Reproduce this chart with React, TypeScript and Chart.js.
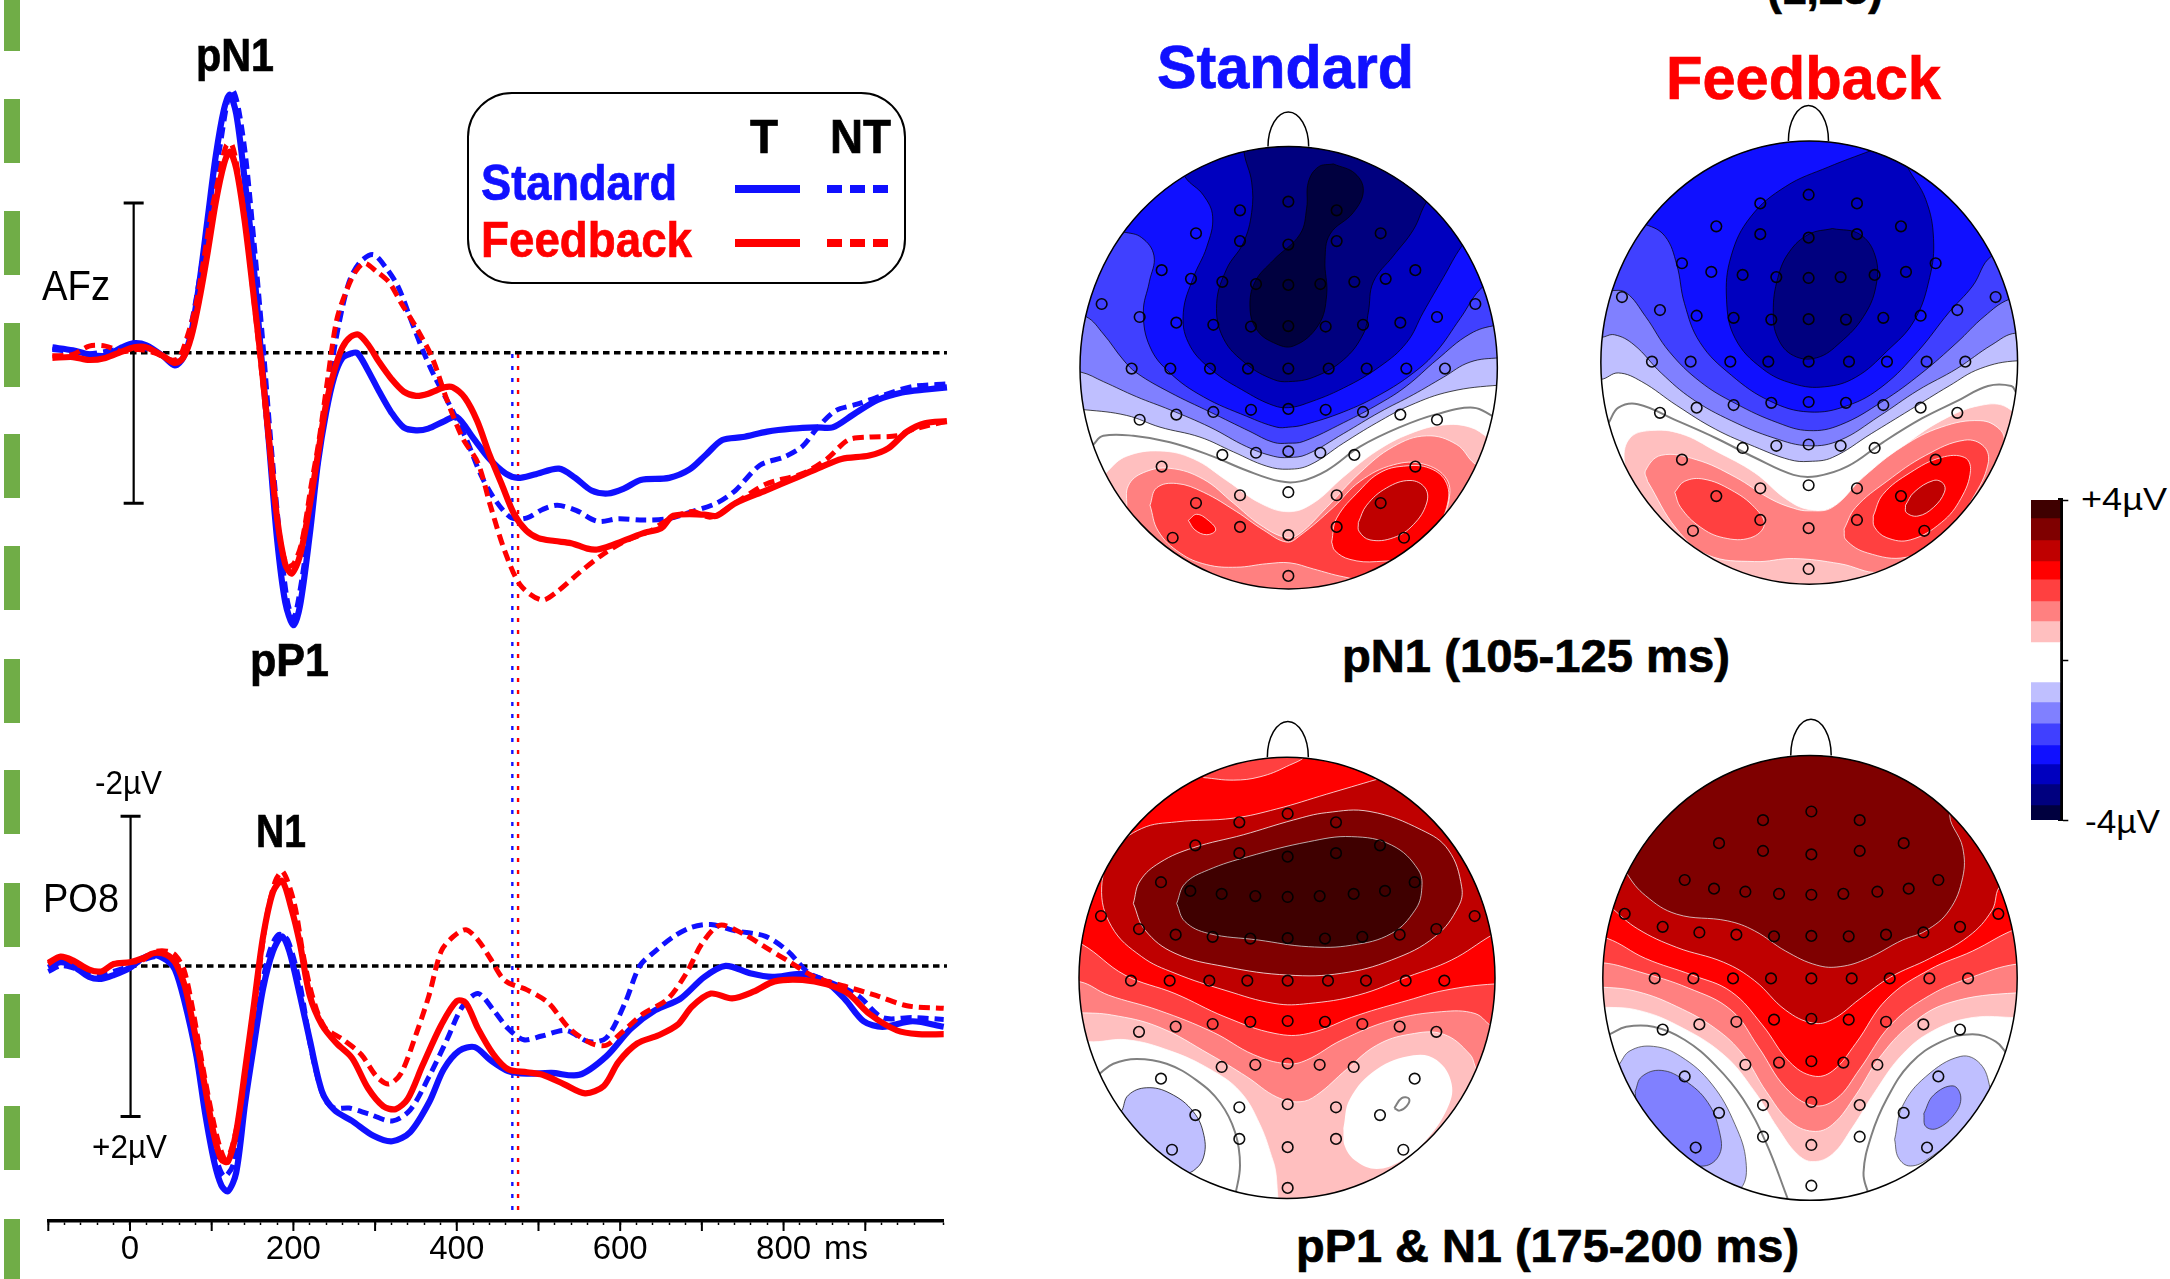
import React, { useEffect, useRef } from "react";
import { Chart, registerables } from "chart.js";
Chart.register(...registerables);

type P = [number, number];

// ---------- ERP traces: [ms, trace reading] (reading: 0-uV line = baseline, 178 or 203 units per uV, negative up)
const afzStdT: P[] = [[-95,825],[-70,832],[-50,842],[-30,845],[-10,825],[5,815],[20,820],[40,845],[55,868],[65,850],[75,790],[85,670],[95,520],[105,370],[115,260],[122,225],[130,270],[140,420],[150,600],[160,830],[170,1050],[180,1280],[190,1430],[200,1485],[208,1440],[220,1270],[230,1100],[240,980],[250,895],[260,850],[270,840],[278,838],[290,875],[305,930],[320,980],[335,1015],[350,1022],[365,1018],[385,1000],[400,990],[420,1040],[440,1090],[460,1125],[475,1135],[495,1127],[525,1113],[545,1135],[565,1165],[585,1172],[605,1160],[625,1140],[660,1135],[685,1115],[705,1080],[725,1045],[750,1038],[780,1025],[810,1018],[840,1015],[860,1015],[885,985],[915,950],[945,932],[975,925],[1000,920]];
const afzStdNT: P[] = [[-95,830],[-70,835],[-50,840],[-30,835],[-10,828],[10,825],[30,835],[50,855],[60,855],[70,810],[80,720],[90,600],[100,470],[110,350],[120,235],[126,215],[133,260],[142,380],[152,580],[162,800],[172,1040],[182,1250],[192,1420],[200,1470],[210,1380],[225,1170],[238,990],[250,830],[260,730],[270,660],[283,620],[298,605],[313,635],[328,680],[343,755],[358,830],[373,895],[392,965],[411,1040],[430,1130],[448,1190],[467,1230],[486,1230],[505,1210],[523,1200],[546,1212],[572,1238],[598,1232],[628,1235],[658,1232],[688,1215],[718,1195],[741,1165],[771,1105],[801,1085],[823,1060],[842,1015],[864,975],[890,960],[920,940],[958,918],[1000,912]];
const afzFbT: P[] = [[-95,850],[-70,848],[-50,855],[-30,850],[-10,835],[5,825],[20,825],[40,845],[55,862],[65,850],[75,800],[85,710],[95,600],[105,480],[115,390],[122,360],[130,400],[140,520],[150,680],[160,850],[170,1040],[180,1230],[190,1340],[198,1362],[208,1320],[220,1200],[230,1080],[240,960],[250,880],[260,825],[270,800],[280,795],[292,820],[305,860],[320,900],[335,930],[350,940],[365,935],[385,920],[395,920],[410,945],[425,1000],[440,1080],[455,1150],[470,1220],[485,1260],[500,1278],[520,1285],[540,1290],[560,1303],[572,1305],[590,1295],[610,1280],[630,1265],[650,1255],[665,1225],[703,1222],[718,1225],[741,1195],[778,1165],[815,1135],[845,1110],[871,1090],[905,1082],[928,1065],[951,1025],[973,1005],[1000,1000]];
const afzFbNT: P[] = [[-95,845],[-70,842],[-50,822],[-30,822],[-10,835],[10,830],[30,838],[50,855],[60,850],[70,800],[80,730],[90,620],[100,500],[110,410],[118,345],[125,345],[133,420],[142,540],[152,720],[162,900],[172,1090],[182,1260],[192,1345],[200,1340],[210,1290],[222,1150],[231,1050],[242,900],[253,760],[265,690],[276,645],[287,625],[302,645],[317,670],[332,720],[351,780],[370,850],[388,950],[407,1040],[426,1100],[441,1200],[459,1310],[478,1390],[504,1425],[523,1405],[550,1360],[580,1315],[606,1285],[636,1262],[658,1235],[688,1215],[711,1228],[741,1195],[778,1150],[823,1125],[853,1090],[879,1045],[905,1038],[939,1035],[958,1020],[1000,1000]];

const po8StdT: P[] = [[-100,725],[-85,710],[-70,720],[-50,750],[-35,755],[-20,745],[0,725],[15,700],[30,690],[45,705],[55,730],[66,810],[81,960],[92,1120],[103,1250],[112,1315],[120,1330],[130,1280],[141,1090],[152,930],[163,780],[175,680],[186,640],[195,680],[208,800],[220,920],[235,1060],[250,1110],[272,1140],[298,1180],[321,1195],[343,1170],[366,1090],[384,1000],[403,950],[422,940],[441,975],[463,1005],[486,1012],[516,1010],[550,1015],[583,965],[613,890],[643,840],[673,810],[703,750],[729,720],[759,740],[786,750],[823,742],[853,765],[875,810],[898,870],[921,885],[958,870],[996,885]];
const po8StdNT: P[] = [[-100,735],[-85,720],[-70,725],[-50,740],[-35,745],[-20,735],[0,720],[15,705],[30,695],[45,700],[55,720],[65,785],[73,860],[88,1050],[103,1220],[115,1290],[126,1260],[137,1120],[148,950],[160,790],[171,680],[182,635],[193,650],[208,770],[223,960],[238,1080],[250,1105],[268,1105],[291,1120],[321,1140],[343,1110],[366,1020],[388,920],[407,830],[426,795],[445,840],[463,890],[482,920],[504,910],[534,895],[561,925],[583,915],[606,820],[624,720],[643,680],[666,640],[688,615],[711,608],[741,625],[778,640],[805,680],[831,740],[853,760],[891,800],[921,860],[958,860],[996,865]];
const po8FbT: P[] = [[-100,712],[-85,695],[-70,705],[-50,730],[-35,735],[-20,715],[0,710],[15,700],[30,685],[45,690],[55,710],[65,760],[70,800],[81,920],[92,1050],[103,1180],[112,1245],[120,1250],[130,1170],[141,1000],[152,820],[163,640],[175,520],[186,490],[197,560],[208,660],[220,800],[235,880],[253,930],[272,970],[291,1050],[310,1100],[325,1108],[340,1080],[358,990],[381,880],[400,815],[411,820],[426,890],[445,960],[463,1000],[486,1008],[505,1015],[531,1040],[557,1065],[580,1045],[598,980],[621,930],[647,908],[670,880],[688,830],[711,795],[737,808],[763,790],[789,762],[823,758],[853,770],[879,795],[905,850],[939,895],[965,905],[996,905]];
const po8FbNT: P[] = [[-100,715],[-85,695],[-70,710],[-50,730],[-35,735],[-20,715],[0,710],[15,705],[30,682],[45,680],[55,690],[66,730],[77,840],[88,980],[103,1150],[115,1240],[122,1230],[133,1130],[145,950],[156,770],[167,590],[178,490],[187,465],[201,550],[212,690],[223,800],[238,885],[261,920],[283,960],[302,1020],[317,1040],[332,1010],[351,900],[366,800],[381,680],[396,640],[411,622],[426,650],[441,700],[459,760],[486,785],[512,820],[538,890],[565,930],[583,935],[602,900],[628,850],[658,810],[681,740],[700,660],[722,610],[752,635],[778,670],[808,710],[838,750],[875,775],[913,800],[951,828],[996,835]];

const tickLabels = [0, 200, 400, 600, 800];

// ---------- colour levels
const cBar = ["#3F0000","#7F0000","#BF0000","#FF0000","#FF4040","#FF8080","#FFBFBF","#FFFFFF","#BFBFFF","#8080FF","#4040FF","#1010FF","#0000BF","#00007F","#00003F"];
const barEdges = [4,3.55,3,2.48,2.02,1.48,0.98,0.45,-0.55,-1.05,-1.58,-2.12,-2.6,-3.1,-3.62,-4];

// ---------- electrodes (as read on map A)
const electrodes: P[] = [[685,465],[540,485],[830,485],[408,538],[962,538],[540,556],[685,564],[830,556],[305,623],[393,643],[487,650],[588,655],[685,657],[781,655],[883,650],[977,643],[1066,623],[125,701],[239,731],[349,744],[460,749],[573,753],[685,752],[797,753],[909,749],[1021,744],[1131,731],[1246,701],[215,850],[331,850],[450,850],[564,850],[685,850],[806,850],[920,850],[1039,850],[1155,850],[239,968],[349,956],[460,950],[573,945],[685,943],[797,945],[909,950],[1021,956],[1131,968],[487,1049],[588,1044],[685,1041],[781,1044],[883,1049],[305,1076],[1066,1076],[540,1142],[685,1135],[830,1142],[408,1160],[962,1160],[540,1215],[685,1234],[830,1215],[338,1240],[1032,1240],[685,1328]];

// ---------- iso-potential contours, one small list per band
const Bk = "rgba(0,0,0,0.8)", Wh = "rgba(255,255,255,0.85)", Gr = "#808080";
type Band = { c: string; s: string; p: P[] };

const mapABands: Band[] = [
 {c:cBar[8],s:Bk,p:[[-40,940],[75,945],[200,958],[300,985],[420,1008],[520,1042],[620,1075],[686,1082],[750,1072],[850,1022],[950,975],[1050,935],[1170,903],[1320,888],[1450,885],[1450,200],[-40,200]]},
 {c:cBar[9],s:Bk,p:[[-40,850],[62,858],[130,880],[230,915],[330,945],[450,985],[560,1030],[640,1052],[686,1055],[740,1048],[850,1000],[960,950],[1060,910],[1150,870],[1230,835],[1320,825],[1450,820],[1450,200],[-40,200]]},
 {c:cBar[10],s:Bk,p:[[-40,700],[78,730],[130,770],[190,830],[230,860],[330,905],[450,950],[570,995],[640,1020],[686,1022],[730,1018],[850,975],[960,930],[1040,890],[1130,830],[1230,770],[1310,750],[1450,740],[1450,200],[-40,200]]},
 {c:cBar[11],s:Bk,p:[[-40,500],[190,535],[245,548],[282,590],[268,650],[250,720],[270,800],[330,860],[430,915],[560,960],[650,985],[686,985],[730,980],[850,950],[960,910],[1060,860],[1130,810],[1200,735],[1270,660],[1450,560],[1450,200],[-40,200]]},
 {c:cBar[12],s:Bk,p:[[300,300],[375,408],[430,450],[458,500],[440,570],[400,640],[370,720],[385,790],[450,850],[560,905],[640,935],[686,940],[740,930],[850,895],[960,845],[1040,790],[1090,720],[1150,640],[1205,568],[1350,420],[1350,200],[300,200]]},
 {c:cBar[13],s:Bk,p:[[555,300],[552,350],[575,420],[575,490],[550,560],[500,620],[470,700],[490,780],[560,840],[640,875],[686,880],[760,870],[850,830],[910,770],[925,720],[940,650],[1000,590],[1060,530],[1100,465],[1250,300]]},
 {c:cBar[14],s:Bk,p:[[820,378],[885,400],[910,440],[880,490],[810,540],[795,600],[800,680],[775,750],[700,798],[640,790],[590,760],[570,710],[585,650],[640,600],[720,540],[740,480],[745,420],[775,385],[820,378]]},
 {c:cBar[6],s:Wh,p:[[100,1130],[145,1085],[200,1052],[300,1040],[400,1058],[500,1108],[600,1160],[686,1180],[760,1160],[850,1100],[950,1040],[1050,1000],[1150,980],[1230,985],[1285,1010],[1450,1100],[1450,1500],[-50,1500],[-50,1200]]},
 {c:cBar[5],s:Wh,p:[[200,1170],[205,1120],[250,1090],[330,1080],[430,1105],[520,1160],[600,1210],[680,1240],[720,1230],[800,1170],[900,1090],[1000,1030],[1100,1005],[1190,1025],[1245,1070],[1320,1100],[1400,1150],[1400,1500],[100,1500],[100,1250]]},
 {c:cBar[4],s:Wh,p:[[270,1165],[290,1125],[350,1115],[430,1135],[530,1180],[610,1222],[680,1250],[720,1235],[820,1170],[900,1110],[1000,1072],[1090,1070],[1160,1105],[1165,1160],[1130,1220],[1080,1290],[950,1340],[850,1330],[760,1312],[690,1298],[620,1300],[530,1308],[440,1302],[360,1275],[295,1225],[270,1165]]},
 {c:cBar[3],s:Wh,p:[[815,1250],[830,1195],[900,1130],[960,1090],[1030,1075],[1110,1080],[1160,1115],[1160,1170],[1120,1230],[1060,1280],[950,1295],[870,1290],[825,1270],[815,1250]]},
 {c:cBar[3],s:Wh,p:[[385,1200],[410,1186],[445,1200],[467,1222],[440,1233],[405,1222],[385,1200]]},
 {c:cBar[2],s:Wh,p:[[895,1205],[920,1165],[980,1125],[1050,1108],[1095,1125],[1100,1160],[1060,1210],[1000,1240],[930,1245],[897,1225],[895,1205]]},
];
const mapAZero: P[][] = [[[60,1060],[100,1025],[130,1005],[220,1005],[330,1020],[450,1050],[560,1085],[660,1110],[720,1110],[800,1085],[900,1030],[1020,985],[1130,955],[1240,940],[1300,960]]];

const mapBBands: Band[] = [
 {c:cBar[8],s:Bk,p:[[-40,880],[105,875],[150,860],[210,880],[300,935],[400,990],[500,1030],[590,1060],[640,1064],[700,1055],[800,1000],[900,945],[1000,890],[1080,850],[1176,832],[1450,830],[1450,100],[-40,100]]},
 {c:cBar[9],s:Bk,p:[[-40,780],[105,778],[140,772],[190,795],[260,860],[340,920],[440,970],[550,1010],[640,1028],[720,1015],[820,960],[920,900],[1020,850],[1110,795],[1172,768],[1450,760],[1450,100],[-40,100]]},
 {c:cBar[10],s:Bk,p:[[-40,670],[130,670],[170,675],[220,730],[280,810],[360,880],[450,930],[560,975],[640,993],[720,980],[830,925],[930,860],[1020,790],[1090,730],[1155,690],[1450,600],[1450,100],[-40,100]]},
 {c:cBar[11],s:Bk,p:[[-40,450],[220,518],[270,545],[300,610],[320,700],[360,790],[440,865],[540,925],[640,950],[740,935],[830,890],[920,810],[1000,720],[1060,660],[1110,590],[1450,400],[1450,100],[-40,100]]},
 {c:cBar[12],s:Bk,p:[[800,347],[690,385],[580,430],[490,500],[440,590],[428,690],[450,780],[520,850],[600,885],[680,892],[760,870],[840,810],[910,740],[950,640],[960,550],[940,460],[893,385],[850,300],[800,347]]},
 {c:cBar[13],s:Bk,p:[[700,527],[770,540],[810,590],[812,660],[780,730],[720,790],[660,825],[600,820],[560,780],[548,720],[560,640],[590,580],[640,540],[700,527]]},
 {c:cBar[6],s:Wh,p:[[190,1130],[165,1060],[180,1010],[230,993],[310,1000],[400,1040],[500,1090],[580,1150],[640,1175],[700,1170],[780,1100],[880,1030],[980,970],[1080,935],[1150,940],[1200,1000],[1400,1500],[-50,1500],[-50,1200]]},
 {c:cBar[5],s:Wh,p:[[225,1110],[220,1085],[260,1050],[350,1060],[450,1100],[540,1150],[600,1172],[640,1178],[700,1170],[780,1100],[880,1030],[980,985],[1080,970],[1130,990],[1140,1020],[1080,1130],[900,1290],[820,1320],[720,1300],[600,1288],[500,1295],[380,1280],[300,1220],[225,1110]]},
 {c:cBar[4],s:Wh,p:[[295,1135],[320,1110],[370,1105],[440,1130],[500,1170],[525,1210],[490,1240],[420,1240],[360,1215],[310,1170],[295,1135]]},
 {c:cBar[4],s:Wh,p:[[730,1220],[760,1170],[840,1110],[940,1050],[1040,1015],[1090,1030],[1100,1070],[1060,1150],[990,1240],[890,1285],[790,1275],[735,1245],[730,1220]]},
 {c:cBar[3],s:Wh,p:[[805,1190],[830,1140],[900,1090],[980,1055],[1040,1055],[1055,1085],[1030,1150],[980,1205],[900,1245],[840,1240],[808,1215],[805,1190]]},
 {c:cBar[2],s:Wh,p:[[888,1165],[910,1135],[960,1108],[985,1115],[988,1135],[960,1170],[920,1190],[890,1182],[888,1165]]},
];
const mapBZero: P[][] = [[[125,975],[150,940],[200,932],[300,970],[400,1010],[500,1055],[600,1095],[660,1098],[740,1075],[830,1020],[930,965],[1020,925],[1100,890],[1160,890],[1172,905]]];

const mapCBands: Band[] = [
 {c:cBar[6],s:Wh,p:[[-50,900],[85,925],[200,920],[330,950],[450,1000],[540,1060],[600,1150],[640,1250],[695,1400],[1400,1400],[1400,-100],[-50,-100]]},
 {c:"#FFFFFF",s:"rgba(255,255,255,0)",p:[[850,1160],[870,1080],[950,1000],[1060,962],[1130,975],[1175,1040],[1160,1110],[1090,1200],[1020,1250],[950,1270],[890,1250],[855,1210],[850,1160]]},
 {c:cBar[5],s:Wh,p:[[-50,845],[60,847],[155,853],[295,885],[450,960],[560,1020],[650,1075],[720,1088],[770,1070],[860,1000],[950,935],[1050,905],[1150,905],[1230,960],[1255,1005],[1400,1100],[1400,-100],[-50,-100]]},
 {c:cBar[4],s:Wh,p:[[-50,760],[60,763],[145,799],[295,840],[460,900],[580,960],[680,985],[740,975],[845,921],[995,867],[1145,844],[1245,849],[1303,885],[1450,900],[1450,-100],[-50,-100]]},
 {c:cBar[3],s:Wh,p:[[-50,620],[65,661],[195,745],[345,795],[495,858],[645,903],[745,903],[895,853],[1045,813],[1155,786],[1303,769],[1450,769],[1450,-100],[-50,-100]]},
 {c:cBar[4],s:Wh,p:[[430,210],[520,217],[600,208],[680,180],[730,150],[600,100],[430,150]]},
 {c:cBar[2],s:Wh,p:[[950,215],[800,255],[650,295],[520,320],[350,330],[245,348],[165,406],[125,506],[155,614],[245,695],[345,740],[495,786],[645,822],[745,822],[895,799],[1045,749],[1175,704],[1295,637],[1450,560],[1450,300],[1100,100],[950,215]]},
 {c:cBar[1],s:Wh,p:[[220,551],[255,623],[345,686],[495,722],[685,745],[845,740],[995,704],[1125,641],[1195,560],[1205,506],[1165,406],[1085,352],[930,302],[800,305],[700,325],[550,365],[400,400],[300,440],[240,490],[220,551]]},
 {c:cBar[0],s:"rgba(220,220,220,0.85)",p:[[350,551],[375,497],[445,460],[565,424],[745,384],[875,370],[995,393],[1075,460],[1085,515],[1065,569],[995,632],[875,664],[745,668],[595,650],[445,632],[375,600],[350,551]]},
 {c:cBar[8],s:Bk,p:[[187,1110],[205,1070],[260,1050],[330,1065],[400,1115],[432,1180],[430,1240],[400,1275],[365,1285],[330,1300],[150,1150],[187,1110]]},
];
const mapCZero: P[][] = [[[115,1015],[160,985],[230,972],[320,985],[410,1030],[480,1090],[525,1170],[540,1260],[525,1345]],[[1003,1105],[1025,1078],[1047,1080],[1040,1100],[1018,1112],[1003,1105]]];

const mapDBands: Band[] = [
 {c:cBar[6],s:Wh,p:[[-50,830],[113,832],[200,840],[300,880],[420,960],[500,1060],[560,1160],[610,1230],[650,1250],[700,1230],[750,1160],[810,1060],[880,960],[960,895],[1060,860],[1175,860],[1400,860],[1400,-100],[-50,-100]]},
 {c:cBar[5],s:Wh,p:[[-50,775],[113,778],[200,790],[300,830],[400,890],[470,960],[530,1060],[590,1140],[650,1168],[700,1150],[760,1070],[820,970],[900,880],[1000,820],[1175,793],[1400,793],[1400,-100],[-50,-100]]},
 {c:cBar[4],s:Wh,p:[[-50,705],[113,712],[200,735],[330,780],[440,840],[510,940],[580,1050],[650,1098],[710,1080],[770,1000],[850,880],[950,800],[1060,750],[1175,715],[1400,700],[1400,-100],[-50,-100]]},
 {c:cBar[3],s:Wh,p:[[-50,600],[120,645],[220,700],[340,745],[440,790],[520,880],[590,980],[650,1018],[700,1005],[760,930],[840,810],[950,730],[1060,680],[1172,620],[1400,540],[1400,-100],[-50,-100]]},
 {c:cBar[2],s:Wh,p:[[-50,400],[135,565],[200,620],[300,670],[420,710],[500,760],[580,840],[650,875],[700,865],[770,810],[850,750],[950,700],[1050,640],[1110,570],[1135,500],[1400,300],[1400,-100],[-50,-100]]},
 {c:cBar[1],s:"rgba(230,230,230,0.85)",p:[[100,330],[172,470],[220,530],[300,580],[430,598],[500,625],[580,680],[660,718],[720,722],[790,700],[880,650],[940,625],[1000,570],[1035,480],[1035,400],[1003,300],[1100,100],[600,-100],[100,100]]},
 {c:cBar[8],s:"rgba(60,60,60,0.8)",p:[[150,990],[180,950],[240,938],[310,965],[390,1040],[450,1150],[478,1250],[465,1322],[400,1350],[250,1250],[120,1050],[150,990]]},
 {c:cBar[9],s:"rgba(40,40,40,0.8)",p:[[193,1060],[210,1020],[260,1003],[320,1030],[380,1090],[410,1170],[410,1230],[370,1262],[300,1240],[200,1100],[193,1060]]},
 {c:cBar[8],s:"rgba(60,60,60,0.8)",p:[[860,1190],[880,1100],[940,1020],[1030,965],[1080,985],[1105,1050],[1100,1080],[1040,1160],[950,1240],[900,1262],[870,1240],[860,1190]]},
 {c:cBar[9],s:"rgba(40,40,40,0.8)",p:[[935,1120],[960,1070],[1010,1045],[1030,1075],[1015,1120],[970,1160],[940,1155],[935,1120]]},
];
const mapDZero: P[][] = [[[128,905],[170,885],[240,885],[320,920],[400,990],[470,1080],[530,1200],[585,1350]],[[1150,960],[1120,925],[1060,905],[980,925],[900,985],[840,1080],[800,1180],[780,1280],[793,1340]]];

// ---------- text
const FONT = '"Liberation Sans", Arial, sans-serif';
type L = { t: string; x: number; b: number; s: number; w: number; c?: string; bold?: boolean };
const labels: L[] = [
 {t:"pN1",x:196,b:71,s:47,w:78,bold:true},
 {t:"pP1",x:250,b:676,s:47,w:79,bold:true},
 {t:"N1",x:256,b:847,s:47,w:50,bold:true},
 {t:"AFz",x:42,b:300,s:43,w:68},
 {t:"PO8",x:43,b:912,s:41,w:76},
 {t:"-2µV",x:95,b:794,s:33,w:67},
 {t:"+2µV",x:92,b:1158,s:33,w:75},
 {t:"ms",x:824,b:1259,s:33,w:44},
 {t:"T",x:750,b:154,s:48,w:28,bold:true},
 {t:"NT",x:830,b:154,s:48,w:61,bold:true},
 {t:"Standard",x:481,b:200,s:50,w:196,c:"#1010FF",bold:true},
 {t:"Feedback",x:481,b:257,s:50,w:211,c:"#FF0000",bold:true},
 {t:"(1,23)",x:1767,b:4,s:46,w:116,bold:true},
 {t:"Standard",x:1157,b:88,s:62,w:257,c:"#1010FF",bold:true},
 {t:"Feedback",x:1666,b:99,s:62,w:275,c:"#FF0000",bold:true},
 {t:"pN1 (105-125 ms)",x:1342,b:672,s:47,w:388,bold:true},
 {t:"pP1 & N1 (175-200 ms)",x:1296,b:1262,s:46,w:503,bold:true},
 {t:"+4µV",x:2081,b:511,s:31,w:86},
 {t:"-4µV",x:2085,b:833,s:33,w:75},
];
const greenDashes = [-13,99,211,323,434,546,659,770,883,994,1106,1219];

function xy(p: P[]) { return p.map(([x, y]) => ({ x, y })); }

function Text({ l }: { l: L }) {
  const ctx = document.createElement("canvas").getContext("2d")!;
  const font = `${l.bold ? "bold " : ""}${l.s}px ${FONT}`;
  ctx.font = font;
  const sx = l.w / ctx.measureText(l.t).width;
  return <div style={{ position: "absolute", left: l.x, top: l.b - 0.3465 * l.s, font, lineHeight: "0px", whiteSpace: "nowrap", color: l.c || "#000", transformOrigin: "left center", transform: `scaleX(${sx})`, WebkitTextStroke: l.bold ? "0.7px currentColor" : undefined } as any}>{l.t}</div>;
}

function ErpChart() {
  const ref = useRef<HTMLCanvasElement>(null);
  useEffect(() => {
    const topK = 2.375, botK = 2.708, botO = 700, areaH = 1221;
    const trace = (d: P[], yAxisID: string, c: string, dash: boolean) => ({
      data: xy(d), yAxisID, showLine: true, pointRadius: 0, borderColor: c, borderWidth: dash ? 5 : 6.2,
      borderDash: dash ? [11, 6] : [], tension: 0.3, fill: false, clip: false,
    });
    const aid = (d: P[], yAxisID: string, c: string, w: number, dash: number[]) => ({
      data: xy(d), yAxisID, showLine: true, pointRadius: 0, borderColor: c, borderWidth: w, borderDash: dash, tension: 0, fill: false, clip: false,
    });
    const bar = (d: P[], yAxisID: string) => ({
      data: xy(d), yAxisID, showLine: true, borderColor: "#000", borderWidth: 2.2, tension: 0, fill: false,
      pointStyle: "line", pointRadius: 10, pointBorderColor: "#000", pointBorderWidth: 3,
    });
    const majors = {
      id: "majors",
      afterDraw(c: any) {
        const s = c.scales.x, g = c.ctx, y = c.chartArea.bottom;
        g.save(); g.strokeStyle = "#000"; g.lineWidth = 2;
        for (let v = -100; v <= 900; v += 100) {
          const x = s.getPixelForValue(v);
          g.beginPath(); g.moveTo(x, y); g.lineTo(x, y + 10); g.stroke();
        }
        g.restore();
      },
    };
    const chart = new Chart(ref.current!, {
      type: "scatter",
      data: { datasets: [
        trace(po8FbT, "yBot", "#FF0000", false), trace(po8FbNT, "yBot", "#FF0000", true),
        trace(po8StdT, "yBot", "#1010FF", false), trace(po8StdNT, "yBot", "#1010FF", true),
        trace(afzFbT, "yTop", "#FF0000", false), trace(afzFbNT, "yTop", "#FF0000", true),
        trace(afzStdNT, "yTop", "#1010FF", true), trace(afzStdT, "yTop", "#1010FF", false),
        aid([[0, 838], [1000, 838]], "yTop", "#000", 3.5, [6.5, 4.5]),
        aid([[0, 720], [1000, 720]], "yBot", "#000", 3.5, [6.5, 4.5]),
        aid([[468, -937], [468, 1400]], "yBot", "#1010FF", 2.4, [4, 8]),
        aid([[475, -937], [475, 1400]], "yBot", "#FF0000", 2.4, [4, 8]),
        bar([[4.5, 482], [4.5, 1195]], "yTop"),
        bar([[0.7, 315], [0.7, 1128]], "yBot"),
      ] as any },
      plugins: [majors],
      options: {
        responsive: false, animation: false, devicePixelRatio: 1, events: [],
        layout: { autoPadding: false, padding: { left: 48.3, right: 56.3, top: 0, bottom: 0 } },
        plugins: { legend: { display: false }, tooltip: { enabled: false } },
        scales: {
          x: {
            type: "linear", min: -100, max: 996, position: "bottom",
            afterFit: (s: any) => { s.height = 58; },
            border: { color: "#000", width: 3.5 },
            grid: { drawOnChartArea: false, drawTicks: true, tickLength: 4, tickColor: "#000", tickWidth: 1.5 },
            ticks: {
              stepSize: 20, autoSkip: false, maxRotation: 0, minRotation: 0, color: "#000", padding: 5,
              font: { family: FONT, size: 33 },
              callback: (v: any) => (tickLabels.includes(Number(v)) ? String(v) : ""),
            },
          },
          yTop: { display: false, reverse: true, min: 0, max: areaH * topK },
          yBot: { display: false, reverse: true, min: (0 - botO) * botK, max: (areaH - botO) * botK },
        },
      } as any,
    });
    return () => chart.destroy();
  }, []);
  return <canvas ref={ref} width={1000} height={1279} style={{ position: "absolute", left: 0, top: 0 }} />;
}

type MapDef = {
  bands: Band[]; zero: P[][];
  ox: number; oy: number; sx: number; sy: number;
  head: [number, number, number, number]; nose: [number, number, number]; eC: P;
};

function HeadMap({ m }: { m: MapDef }) {
  const ref = useRef<HTMLCanvasElement>(null);
  const [x0, x1, y0, y1] = m.head;
  const L = Math.floor(m.ox + x0 / m.sx) - 6, R = Math.ceil(m.ox + x1 / m.sx) + 6;
  const T = Math.floor(m.oy + y0 / m.sy) - 42, B = Math.ceil(m.oy + y1 / m.sy) + 6;
  useEffect(() => {
    const clip = {
      id: "headClip",
      beforeDatasetsDraw(c: any) {
        const g = c.ctx, sx = c.scales.x, sy = c.scales.y;
        const cx = sx.getPixelForValue((x0 + x1) / 2), cy = sy.getPixelForValue((y0 + y1) / 2);
        const rx = (x1 - x0) / 2 / m.sx, ry = (y1 - y0) / 2 / m.sy;
        g.save(); g.beginPath(); g.ellipse(cx, cy, rx, ry, 0, 0, Math.PI * 2); g.clip();
      },
      afterDatasetsDraw(c: any) {
        const g = c.ctx, sx = c.scales.x, sy = c.scales.y;
        g.restore();
        const cx = sx.getPixelForValue((x0 + x1) / 2), cy = sy.getPixelForValue((y0 + y1) / 2);
        const rx = (x1 - x0) / 2 / m.sx, ry = (y1 - y0) / 2 / m.sy;
        g.save(); g.strokeStyle = "#000"; g.lineWidth = 1.5;
        g.beginPath(); g.ellipse(cx, cy, rx, ry, 0, 0, Math.PI * 2); g.stroke();
        const [na, nb, nt] = m.nose;
        const nx = sx.getPixelForValue((na + nb) / 2), ny = sy.getPixelForValue(y0);
        g.beginPath(); g.ellipse(nx, ny, (nb - na) / 2 / m.sx, (y0 - nt) / m.sy, 0, Math.PI, Math.PI * 2); g.stroke();
        g.restore();
      },
    };
    const fills = m.bands.map((b) => ({
      data: xy(b.p), showLine: true, fill: "shape", backgroundColor: b.c, borderColor: b.s, borderWidth: 0.9, pointRadius: 0, tension: 0.4,
    }));
    const zeros = m.zero.map((z) => ({
      data: xy(z), showLine: true, fill: false, borderColor: Gr, borderWidth: 2, pointRadius: 0, tension: 0.4,
    }));
    const elec = {
      data: electrodes.map(([x, y]) => ({ x: m.eC[0] + ((x - 685) / 3) * m.sx, y: m.eC[1] + ((y - 850) / 2.306) * m.sy })),
      showLine: false, pointRadius: 5.3, pointStyle: "circle", pointBackgroundColor: "rgba(0,0,0,0)", pointBorderColor: "rgba(0,0,0,0.95)", pointBorderWidth: 1.6,
    };
    const chart = new Chart(ref.current!, {
      type: "scatter",
      data: { datasets: [elec, ...zeros, ...fills.slice().reverse()] as any },
      plugins: [clip],
      options: {
        responsive: false, animation: false, devicePixelRatio: 1, events: [],
        layout: { autoPadding: false, padding: 0 },
        elements: { line: { capBezierPoints: false } },
        plugins: { legend: { display: false }, tooltip: { enabled: false } },
        scales: {
          x: { display: false, type: "linear", min: (L - m.ox) * m.sx, max: (R - m.ox) * m.sx },
          y: { display: false, type: "linear", reverse: true, min: (T - m.oy) * m.sy, max: (B - m.oy) * m.sy },
        },
      } as any,
    });
    return () => chart.destroy();
  }, []);
  return <canvas ref={ref} width={R - L} height={B - T} style={{ position: "absolute", left: L, top: T }} />;
}

function ColorBar() {
  const ref = useRef<HTMLCanvasElement>(null);
  useEffect(() => {
    const chart = new Chart(ref.current!, {
      type: "bar",
      data: {
        labels: ["uV"],
        datasets: cBar.map((c, i) => ({
          data: [[barEdges[i + 1], barEdges[i]]], backgroundColor: c, borderWidth: 0, grouped: false, barPercentage: 1, categoryPercentage: 1,
        })) as any,
      },
      options: {
        responsive: false, animation: false, devicePixelRatio: 1, events: [],
        layout: { autoPadding: false, padding: { top: 10, bottom: 10, left: 0, right: 0 } },
        plugins: { legend: { display: false }, tooltip: { enabled: false } },
        scales: {
          x: { display: false },
          y: {
            position: "right", min: -4, max: 4,
            afterFit: (s: any) => { s.width = 15.7; },
            border: { color: "#000", width: 5 },
            grid: { drawOnChartArea: false, tickLength: 8, tickColor: "#000", tickWidth: 1.5 },
            ticks: { stepSize: 4, display: false },
          },
        },
      } as any,
    });
    return () => chart.destroy();
  }, []);
  return <canvas ref={ref} width={45} height={340} style={{ position: "absolute", left: 2031, top: 490 }} />;
}

const maps: MapDef[] = [
  { bands: mapABands, zero: mapAZero, ox: 1060, oy: 0, sx: 3, sy: 2.306, head: [60, 1312, 338, 1358], nose: [624, 746, 258], eC: [685, 850] },
  { bands: mapBBands, zero: mapBZero, ox: 1560, oy: 0, sx: 2.57, sy: 2.306, head: [105, 1176, 325, 1347], nose: [587, 690, 243], eC: [639, 834] },
  { bands: mapCBands, zero: mapCZero, ox: 1060, oy: 700, sx: 3, sy: 2.708, head: [57, 1305, 155, 1350], nose: [622, 745, 58], eC: [683, 760] },
  { bands: mapDBands, zero: mapDZero, ox: 1560, oy: 700, sx: 2.57, sy: 2.708, head: [110, 1175, 150, 1355], nose: [593, 697, 52], eC: [646, 754] },
];

function sample(x: number, y: number, w: number, c: string) {
  return <div key={x + "-" + y} style={{ position: "absolute", left: x, top: y - 4, width: w, height: 8, background: c }} />;
}

export default function App() {
  return (
    <div style={{ position: "absolute", left: 0, top: 0, width: 2170, height: 1279, overflow: "hidden", background: "#fff" }}>
      {greenDashes.map((y) => <div key={y} style={{ position: "absolute", left: 4, top: y, width: 16, height: 64, background: "#70AD47" }} />)}
      <ErpChart />
      {maps.map((m, i) => <HeadMap key={i} m={m} />)}
      <ColorBar />
      <div style={{ position: "absolute", left: 467, top: 92, width: 439, height: 192, boxSizing: "border-box", border: "2px solid #000", borderRadius: 45 }} />
      {sample(735, 189, 65, "#1010FF")}
      {[827, 850, 873].map((x) => sample(x, 189, 15, "#1010FF"))}
      {sample(735, 243, 65, "#FF0000")}
      {[827, 850, 873].map((x) => sample(x, 243, 15, "#FF0000"))}
      {labels.map((l, i) => <Text key={i} l={l} />)}
    </div>
  );
}
